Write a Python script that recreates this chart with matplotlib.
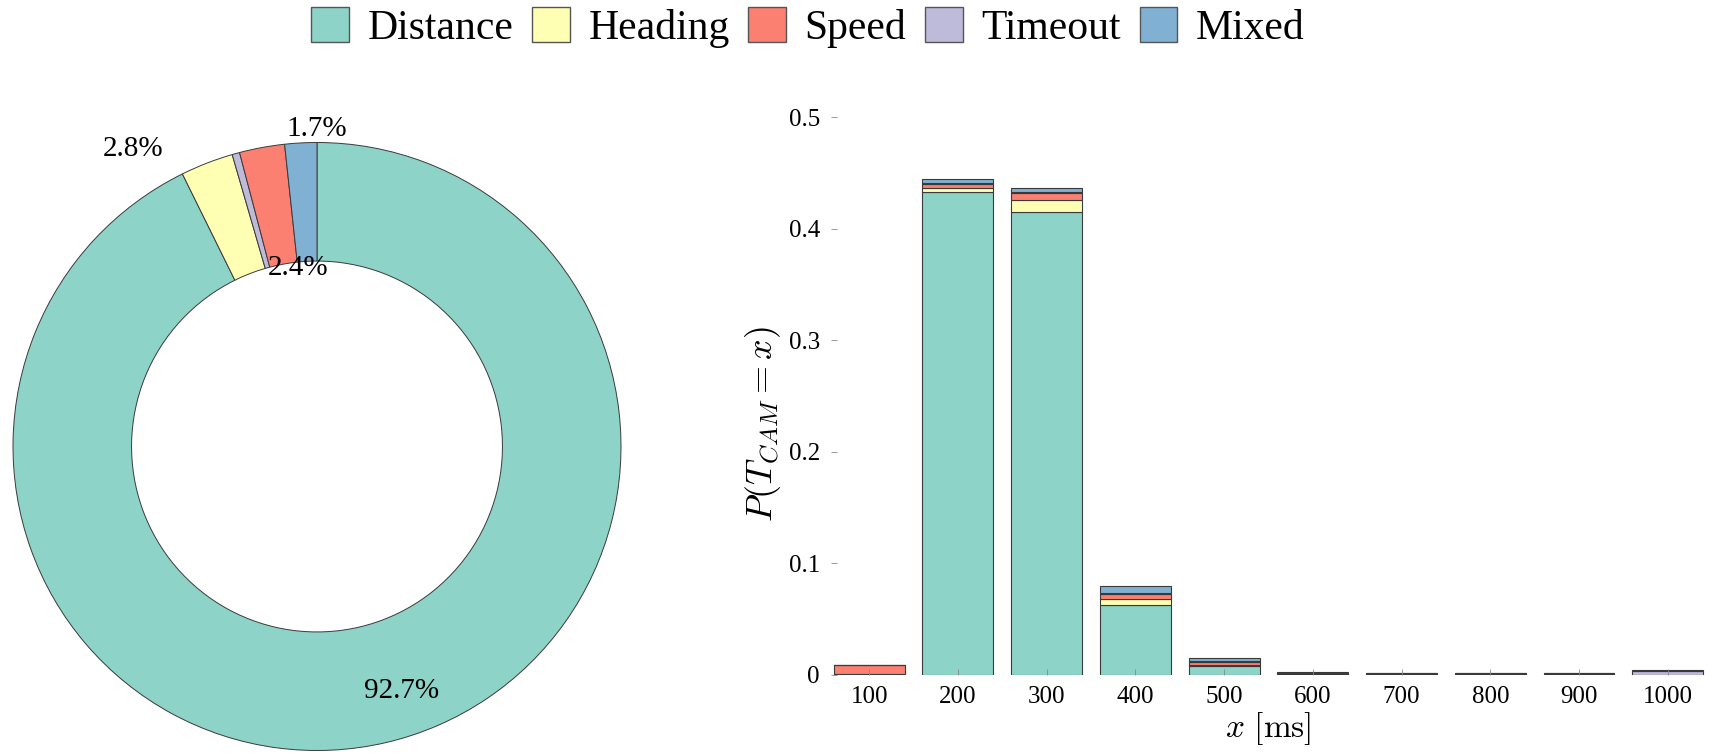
import numpy as np
import matplotlib
matplotlib.use("Agg")
import matplotlib.pyplot as plt
from matplotlib.patches import Patch

plt.rcParams["font.family"] = ["Liberation Serif", "DejaVu Serif"]
plt.rcParams["mathtext.fontset"] = "cm"

categories = ["Distance", "Heading", "Speed", "Timeout", "Mixed"]
colors = ["#8dd3c7", "#ffffb3", "#fb8072", "#bebada", "#80b1d3"]

# share of each trigger cause (percent)
share = {"Distance": 92.7, "Heading": 2.8, "Timeout": 0.4, "Speed": 2.4, "Mixed": 1.7}

# P(T_CAM = x) per trigger cause
x_ms = [100, 200, 300, 400, 500, 600, 700, 800, 900, 1000]
p_distance = [0.0, 0.433, 0.415, 0.062, 0.0077, 0.0005, 0.0002, 0.0002, 0.0, 0.0]
p_heading = [0.0005, 0.003, 0.011, 0.0055, 0.001, 0.0003, 0.0, 0.0, 0.0, 0.0]
p_speed = [0.0083, 0.004, 0.006, 0.005, 0.003, 0.0005, 0.0003, 0.0, 0.0002, 0.0]
p_timeout = [0.0, 0.001, 0.001, 0.001, 0.0005, 0.0003, 0.0005, 0.0008, 0.0008, 0.0035]
p_mixed = [0.0, 0.003, 0.003, 0.006, 0.0025, 0.0004, 0.0002, 0.0, 0.0, 0.0005]

W, H = 1714, 754
fig = plt.figure(figsize=(W / 100, H / 100), dpi=100)

# --- donut ---
R = 304.0  # pixels per unit radius
cx, cy = 317.0, H - 446.5
axw = 720
ax1 = fig.add_axes([0, 0, axw / W, 1])

order = ["Distance", "Heading", "Timeout", "Speed", "Mixed"]
vals = [share[k] for k in order]
cols = [colors[categories.index(k)] for k in order]
wedges, _ = ax1.pie(vals, colors=cols, startangle=90, counterclock=False,
                    radius=1.0, frame=True,
                    wedgeprops=dict(width=0.39, edgecolor="#3a3a3a", linewidth=0.7))
ax1.set_xlim(-cx / R, (axw - cx) / R)
ax1.set_ylim(-cy / R, (H - cy) / R)
ax1.set_aspect("auto")
ax1.axis("off")

# label placement: (radius, angle offset in degrees)
label_pos = {"Distance": (0.85, 6), "Heading": (1.15, 10.5), "Speed": (0.59, -4.5), "Mixed": (1.045, -3.0)}
for w, k, v in zip(wedges, order, vals):
    if k not in label_pos:
        continue
    r, off = label_pos[k]
    ang = np.deg2rad((w.theta1 + w.theta2) / 2 + off)
    ax1.text(r * np.cos(ang), r * np.sin(ang), f"{v:.1f}%", ha="center", va="center",
             fontsize=21)

# --- stacked bars ---
ax2 = fig.add_axes([831 / W, 1 - 674.6 / H, (1705 - 831) / W, (674.6 - 117) / H])
bottom = np.zeros(len(x_ms))
for name, c, vals_b in zip(categories, colors,
                           [p_distance, p_heading, p_speed, p_timeout, p_mixed]):
    ax2.bar(x_ms, vals_b, width=80, bottom=bottom, color=c, edgecolor="#3a3a3a",
            linewidth=0.8)
    bottom += np.array(vals_b)
ax2.set_xlim(57, 1042)
ax2.set_ylim(0, 0.5)
ax2.set_xticks(x_ms)
ax2.set_xticklabels([str(v) for v in x_ms], fontsize=18)
ax2.set_yticks([0, 0.1, 0.2, 0.3, 0.4, 0.5])
ax2.set_yticklabels(["0", "0.1", "0.2", "0.3", "0.4", "0.5"], fontsize=18)
ax2.tick_params(axis="both", direction="in", length=4, width=0.6, color="#888888", pad=8)
for s in ax2.spines.values():
    s.set_visible(False)
ax2.set_ylabel(r"$P(T_{CAM}=x)$", fontsize=26)
ax2.yaxis.set_label_coords(-0.055, 0.45)
ax2.set_xlabel(r"$x\ [\mathrm{ms}]$", fontsize=24, labelpad=2)

handles = [Patch(facecolor=c, edgecolor="#555555", linewidth=1.0) for c in colors]
fig.legend(handles, categories, loc="upper center", bbox_to_anchor=(808 / W, 1.04),
           ncol=5, frameon=False, fontsize=30, handlelength=0.9, handleheight=0.9,
           handletextpad=0.45, columnspacing=0.45)

fig.savefig("out.png", dpi=100)
